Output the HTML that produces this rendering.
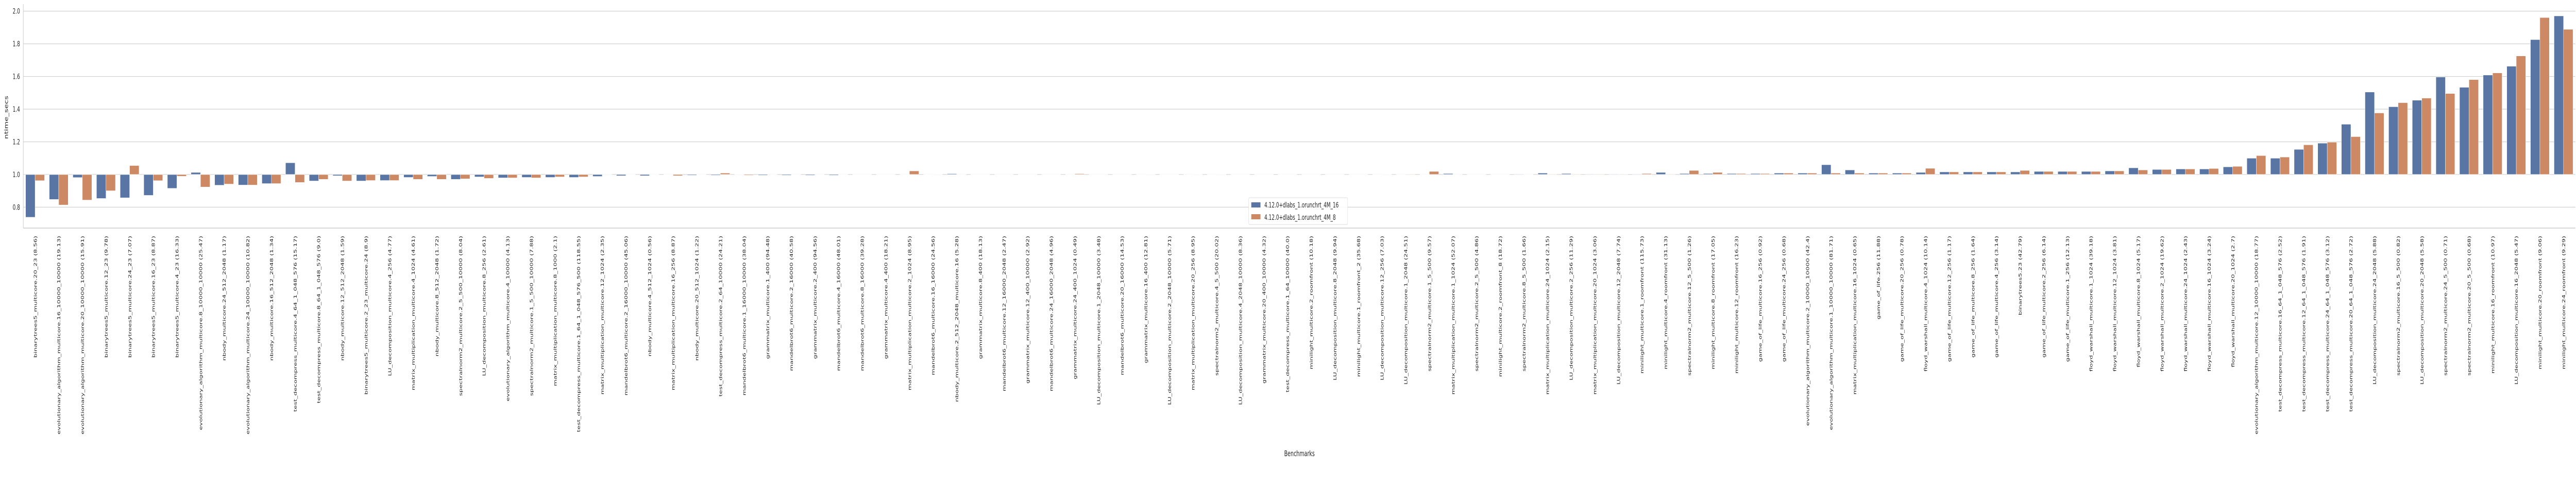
<!DOCTYPE html>
<html>
<head>
<meta charset="utf-8">
<style>
  html,body{margin:0;padding:0;background:#fff;width:100%;height:100%;overflow:hidden;}
  #chart{display:block;width:100vw;height:100vh;}
  svg text{font-family:"DejaVu Sans","Liberation Sans",sans-serif;fill:#262626;}
</style>
</head>
<body>
<svg id="chart" viewBox="0 0 7858 944" preserveAspectRatio="none" xmlns="http://www.w3.org/2000/svg">
  <g id="grid"></g>
  <g id="bars"></g>
  <g id="axes"></g>
  <g id="xlabels"></g>
  <text x="0" y="0" font-size="15" text-anchor="middle" transform="translate(24,228) rotate(-90)">ntime_secs</text>
  <text x="3964" y="886" font-size="15" text-anchor="middle">Benchmarks</text>
  <g>
    <rect x="3809" y="384" width="302" height="52" rx="3" fill="#fff" fill-opacity="0.85" stroke="#dddddd"/>
    <rect x="3817" y="393" width="28" height="10" fill="#5875a4"/>
    <text x="3857" y="403" font-size="14">4.12.0+dlabs_1.orunchrt_4M_16</text>
    <rect x="3817" y="416" width="28" height="10" fill="#cc8963"/>
    <text x="3857" y="427" font-size="14">4.12.0+dlabs_1.orunchrt_4M_8</text>
  </g>
</svg>
<script>
const categories = [
"binarytrees5_multicore.20_23 (8.56)",
"evolutionary_algorithm_multicore.16_10000_10000 (19.13)",
"evolutionary_algorithm_multicore.20_10000_10000 (15.91)",
"binarytrees5_multicore.12_23 (9.78)",
"binarytrees5_multicore.24_23 (7.07)",
"binarytrees5_multicore.16_23 (8.87)",
"binarytrees5_multicore.4_23 (16.33)",
"evolutionary_algorithm_multicore.8_10000_10000 (25.47)",
"nbody_multicore.24_512_2048 (1.17)",
"evolutionary_algorithm_multicore.24_10000_10000 (10.82)",
"nbody_multicore.16_512_2048 (1.34)",
"test_decompress_multicore.4_64_1_048_576 (15.17)",
"test_decompress_multicore.8_64_1_048_576 (9.0)",
"nbody_multicore.12_512_2048 (1.59)",
"binarytrees5_multicore.2_23_multicore.24 (8.9)",
"LU_decomposition_multicore.4_256 (4.77)",
"matrix_multiplication_multicore.4_1024 (4.61)",
"nbody_multicore.8_512_2048 (1.72)",
"spectralnorm2_multicore.2_5_500_10000 (8.04)",
"LU_decomposition_multicore.8_256 (2.61)",
"evolutionary_algorithm_multicore.4_10000 (4.13)",
"spectralnorm2_multicore.1_5_500_10000 (7.88)",
"matrix_multiplication_multicore.8_1000 (2.1)",
"test_decompress_multicore.1_64_1_048_576_500 (118.55)",
"matrix_multiplication_multicore.12_1024 (2.35)",
"mandelbrot6_multicore.2_16000_10000 (45.06)",
"nbody_multicore.4_512_1024 (0.56)",
"matrix_multiplication_multicore.16_256 (8.87)",
"nbody_multicore.20_512_1024 (1.22)",
"test_decompress_multicore.2_64_10000 (24.21)",
"mandelbrot6_multicore.1_16000_10000 (38.04)",
"grammatrix_multicore.1_400 (94.48)",
"mandelbrot6_multicore.2_16000 (40.58)",
"grammatrix_multicore.2_400 (94.56)",
"mandelbrot6_multicore.4_16000 (48.01)",
"mandelbrot6_multicore.8_16000 (39.28)",
"grammatrix_multicore.4_400 (18.21)",
"matrix_multiplication_multicore.2_1024 (8.95)",
"mandelbrot6_multicore.16_16000 (24.56)",
"nbody_multicore.2_512_2048_multicore.16 (5.28)",
"grammatrix_multicore.8_400 (18.13)",
"mandelbrot6_multicore.12_16000_2048 (2.47)",
"grammatrix_multicore.12_400_10000 (2.92)",
"mandelbrot6_multicore.24_16000_2048 (4.96)",
"grammatrix_multicore.24_400_1024 (0.49)",
"LU_decomposition_multicore.1_2048_10000 (3.48)",
"mandelbrot6_multicore.20_16000 (14.53)",
"grammatrix_multicore.16_400 (12.81)",
"LU_decomposition_multicore.2_2048_10000 (5.71)",
"matrix_multiplication_multicore.20_256 (8.95)",
"spectralnorm2_multicore.4_5_500 (20.02)",
"LU_decomposition_multicore.4_2048_10000 (8.36)",
"grammatrix_multicore.20_400_10000 (4.32)",
"test_decompress_multicore.1_64_10000 (40.0)",
"minilight_multicore.2_roomfront (10.18)",
"LU_decomposition_multicore.8_2048 (9.94)",
"minilight_multicore.1_roomfront_2 (35.68)",
"LU_decomposition_multicore.12_256 (7.03)",
"LU_decomposition_multicore.1_2048 (24.51)",
"spectralnorm2_multicore.1_5_500 (9.57)",
"matrix_multiplication_multicore.1_1024 (52.07)",
"spectralnorm2_multicore.2_5_500 (4.86)",
"minilight_multicore.2_roomfront_8 (18.72)",
"spectralnorm2_multicore.8_5_500 (1.66)",
"matrix_multiplication_multicore.24_1024 (2.15)",
"LU_decomposition_multicore.2_256 (11.29)",
"matrix_multiplication_multicore.20_1024 (3.06)",
"LU_decomposition_multicore.12_2048 (7.74)",
"minilight_multicore.1_roomfront (115.73)",
"minilight_multicore.4_roomfront (31.13)",
"spectralnorm2_multicore.12_5_500 (1.26)",
"minilight_multicore.8_roomfront (17.05)",
"minilight_multicore.12_roomfront (16.23)",
"game_of_life_multicore.16_256 (0.92)",
"game_of_life_multicore.24_256 (0.68)",
"evolutionary_algorithm_multicore.2_10000_10000 (42.4)",
"evolutionary_algorithm_multicore.1_10000_10000 (81.71)",
"matrix_multiplication_multicore.16_1024 (0.65)",
"game_of_life.256 (11.88)",
"game_of_life_multicore.20_256 (0.78)",
"floyd_warshall_multicore.4_1024 (10.14)",
"game_of_life_multicore.12_256 (1.17)",
"game_of_life_multicore.8_256 (1.64)",
"game_of_life_multicore.4_256 (3.14)",
"binarytrees5.23 (42.79)",
"game_of_life_multicore.2_256 (6.14)",
"game_of_life_multicore.1_256 (12.13)",
"floyd_warshall_multicore.1_1024 (39.18)",
"floyd_warshall_multicore.12_1024 (3.81)",
"floyd_warshall_multicore.8_1024 (5.17)",
"floyd_warshall_multicore.2_1024 (19.62)",
"floyd_warshall_multicore.24_1024 (2.43)",
"floyd_warshall_multicore.16_1024 (3.24)",
"floyd_warshall_multicore.20_1024 (2.7)",
"evolutionary_algorithm_multicore.12_10000_10000 (18.77)",
"test_decompress_multicore.16_64_1_048_576 (2.52)",
"test_decompress_multicore.12_64_1_048_576 (1.91)",
"test_decompress_multicore.24_64_1_048_576 (3.12)",
"test_decompress_multicore.20_64_1_048_576 (2.72)",
"LU_decomposition_multicore.24_2048 (5.88)",
"spectralnorm2_multicore.16_5_500 (0.82)",
"LU_decomposition_multicore.20_2048 (5.58)",
"spectralnorm2_multicore.24_5_500 (0.71)",
"spectralnorm2_multicore.20_5_500 (0.68)",
"minilight_multicore.16_roomfront (10.97)",
"LU_decomposition_multicore.16_2048 (5.47)",
"minilight_multicore.20_roomfront (9.06)",
"minilight_multicore.24_roomfront (9.29)"
];
const series16 = [
0.738,0.847,0.981,0.853,0.857,0.872,0.915,1.013,0.934,0.935,
0.944,1.072,0.960,0.992,0.960,0.963,0.982,0.988,0.970,0.985,
0.979,0.982,0.982,0.982,0.988,0.992,0.992,1.000,0.995,0.995,
1.002,0.995,0.995,0.995,0.995,1.000,1.000,1.000,1.000,1.005,
1.000,1.000,1.000,1.000,1.000,1.000,1.000,1.000,1.000,1.000,
1.000,1.000,1.000,1.000,1.000,1.000,1.000,1.000,1.000,1.000,
1.006,1.000,1.000,1.003,1.009,1.006,1.003,1.003,1.003,1.013,
1.006,1.006,1.006,1.006,1.009,1.009,1.060,1.028,1.009,1.009,
1.013,1.016,1.016,1.016,1.016,1.019,1.019,1.019,1.022,1.041,
1.031,1.034,1.034,1.047,1.100,1.100,1.154,1.192,1.308,1.505,
1.415,1.455,1.597,1.534,1.609,1.663,1.826,1.971
];
const series8 = [
0.962,0.813,0.843,0.900,1.055,0.962,0.989,0.923,0.941,0.935,
0.944,0.951,0.970,0.960,0.963,0.963,0.970,0.970,0.973,0.976,
0.979,0.979,0.985,0.985,1.002,1.000,1.000,0.992,1.000,1.009,
0.995,1.000,1.000,1.000,1.000,1.000,1.000,1.022,1.002,1.000,
1.000,1.000,1.000,1.000,1.005,1.000,1.000,1.002,1.000,1.002,
1.002,1.000,1.000,1.000,1.000,1.000,1.000,1.002,1.003,1.019,
1.000,1.000,1.000,1.000,1.003,1.003,1.003,1.003,1.006,1.003,
1.025,1.013,1.006,1.006,1.009,1.009,1.009,1.009,1.009,1.009,
1.038,1.016,1.016,1.016,1.025,1.019,1.019,1.019,1.022,1.028,
1.031,1.034,1.037,1.050,1.116,1.107,1.182,1.198,1.232,1.377,
1.440,1.468,1.496,1.581,1.622,1.726,1.961,1.889
];
const yTicks = [0.8, 1.0, 1.2, 1.4, 1.6, 1.8, 2.0];
const yTickLabels = ["0.8","1.0","1.2","1.4","1.6","1.8","2.0"];

const NS = "http://www.w3.org/2000/svg";
const plotLeft = 71, plotRight = 7856, plotTop = 8, plotBottom = 443;
const yMin = 0.672, yMax = 2.043;
function yScale(v){ return plotBottom - (v - yMin) / (yMax - yMin) * (plotBottom - plotTop); }
const band = (plotRight - plotLeft) / categories.length;
function xCenter(i){ return plotLeft + band * (i + 0.5); }
const barW = band * 0.4;
function mk(tag, attrs, parent){
  const el = document.createElementNS(NS, tag);
  for (const k in attrs) el.setAttribute(k, attrs[k]);
  parent.appendChild(el);
  return el;
}
const grid = document.getElementById('grid');
const axes = document.getElementById('axes');
const barsG = document.getElementById('bars');
const xl = document.getElementById('xlabels');

yTicks.forEach((t, i) => {
  const y = yScale(t);
  const ln = mk('line', {x1: plotLeft, x2: plotRight, y1: y, y2: y, stroke: '#d0d0d0', 'stroke-width': 1.2}, grid);
  
  
  const tx = mk('text', {x: plotLeft - 10, y: y + 5, 'font-size': 14, 'text-anchor': 'end'}, axes);
  tx.textContent = yTickLabels[i];
  
  
});

function drawBar(v, x, color, name){
  const y0 = yScale(1.0), y1 = yScale(v);
  const r = mk('rect', {x: x, y: Math.min(y0, y1), width: barW, height: Math.max(Math.abs(y1 - y0), 0.5), fill: color, stroke: '#ffffff', 'stroke-width': 0.8}, barsG);
  
  
}
categories.forEach((c, i) => {
  const cx = xCenter(i);
  drawBar(series16[i], cx - barW, '#5875a4', 'bar-4m-16');
  drawBar(series8[i], cx, '#cc8963', 'bar-4m-8');
  const t = mk('text', {x: 0, y: 0, 'font-size': 13, 'text-anchor': 'end', transform: 'translate(' + (cx + 5) + ',' + 458 + ') rotate(-90)'}, xl);
  t.textContent = c;
  
  
});

const sl = mk('line', {x1: plotLeft, x2: plotLeft, y1: plotTop, y2: plotBottom, stroke: '#cccccc', 'stroke-width': 1.5}, axes);


const sb = mk('line', {x1: plotLeft, x2: plotRight, y1: plotBottom, y2: plotBottom, stroke: '#cccccc', 'stroke-width': 1.5}, axes);


</script>
</body>
</html>
